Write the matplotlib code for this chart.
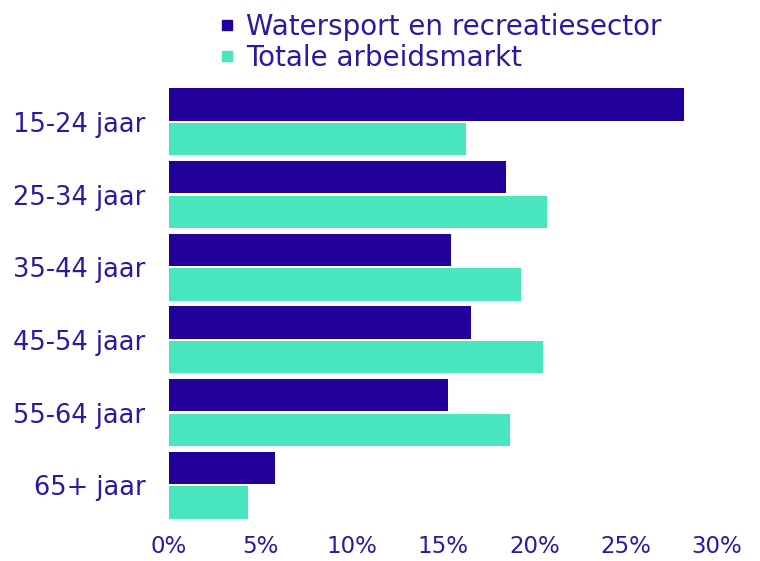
import matplotlib
matplotlib.use("Agg")
import matplotlib.pyplot as plt
from matplotlib.lines import Line2D
import numpy as np

categories = ["15-24 jaar", "25-34 jaar", "35-44 jaar", "45-54 jaar", "55-64 jaar", "65+ jaar"]
watersport = [28.2, 18.45, 15.45, 16.55, 15.25, 5.8]
totaal = [16.25, 20.7, 19.25, 20.5, 18.65, 4.3]
series_names = ["Watersport en recreatiesector", "Totale arbeidsmarkt"]
xticks = [0, 5, 10, 15, 20, 25, 30]

dark = "#22009A"
teal = "#48E5BE"
txt = "#2A1AA0"

plt.rcParams['font.family'] = ['DejaVu Sans']

fig = plt.figure(figsize=(7.6, 5.61), dpi=100)
ax = fig.add_axes([169/760, 1-521.6/561, (717-169)/760, (521.6-85.5)/561])

y = np.arange(len(categories))
h = 0.445
off = 0.2375
ax.barh(y - off, watersport, height=h, color=dark)
ax.barh(y + off, totaal, height=h, color=teal)

ax.set_ylim(len(categories) - 0.5, -0.5)
ax.set_xlim(0, 30)
ax.set_yticks(y)
ax.set_yticklabels(categories, fontsize=18.5)
ax.set_xticks(xticks)
ax.set_xticklabels([f"{t}%" for t in xticks], fontsize=16.5)
for s in ax.spines.values():
    s.set_visible(False)
ax.tick_params(axis='both', length=0, colors=txt)
ax.tick_params(axis='y', pad=17)
ax.tick_params(axis='x', pad=10)

handles = [Line2D([], [], marker='s', linestyle='none', markersize=7, color=dark),
           Line2D([], [], marker='s', linestyle='none', markersize=7, color=teal)]
leg = fig.legend(handles, series_names, loc='upper left', bbox_to_anchor=(210/760, 0.997),
                 frameon=False, fontsize=20, handlelength=0.45, handletextpad=0.45,
                 labelspacing=0.1, borderaxespad=0.0)
for t in leg.get_texts():
    t.set_color(txt)

fig.savefig("out.png", dpi=100)
